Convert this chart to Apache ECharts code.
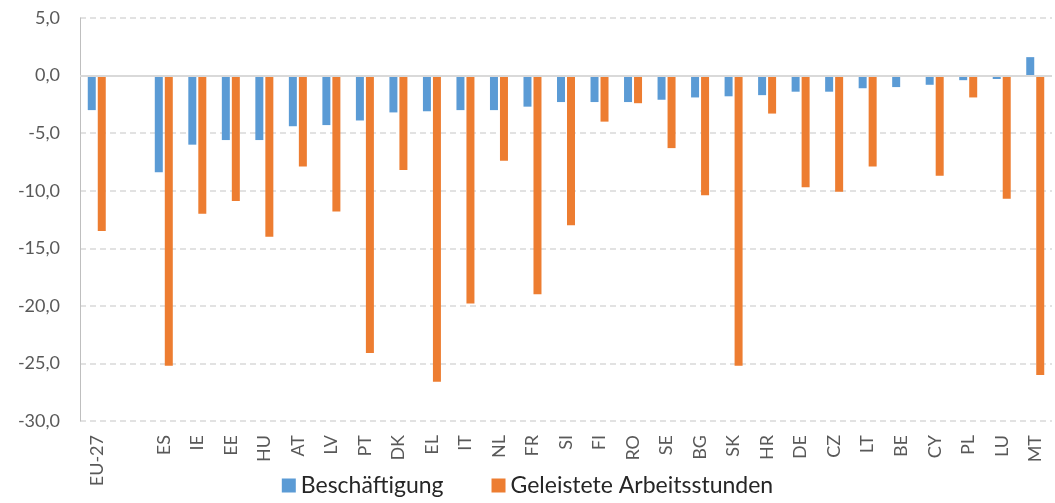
<!DOCTYPE html>
<html>
<head>
<meta charset="utf-8">
<script src="https://cdn.jsdelivr.net/npm/echarts@6/dist/echarts.min.js"></script>
<style>html,body{margin:0;padding:0;background:#fff;}#c{width:1055px;height:503px;}</style>
</head>
<body>
<div id="c"></div>
<script>
var categories = ['EU-27','','ES','IE','EE','HU','AT','LV','PT','DK','EL','IT','NL','FR','SI','FI','RO','SE','BG','SK','HR','DE','CZ','LT','BE','CY','PL','LU','MT'];
var beschaeftigung = [-3.0,null,-8.4,-6.0,-5.6,-5.6,-4.4,-4.3,-3.9,-3.2,-3.1,-3.0,-3.0,-2.7,-2.3,-2.3,-2.3,-2.1,-1.9,-1.8,-1.7,-1.4,-1.4,-1.1,-1.0,-0.8,-0.4,-0.3,1.6];
var arbeitsstunden = [-13.5,null,-25.2,-12.0,-10.9,-14.0,-7.9,-11.8,-24.1,-8.2,-26.6,-19.8,-7.4,-19.0,-13.0,-4.0,-2.4,-6.3,-10.4,-25.2,-3.3,-9.7,-10.1,-7.9,null,-8.7,-1.9,-10.7,-26.0];
var yTicks = {min:-30, max:5, interval:5};
var seriesNames = ['Beschäftigung','Geleistete Arbeitsstunden'];

var chart = echarts.init(document.getElementById('c'));
var font = 'Lato, "Open Sans", sans-serif';
chart.setOption({
  animation:false,
  color:['#5b9bd5','#ed7d31'],
  grid:{left:80,right:3,top:18,bottom:82,containLabel:false},
  legend:{
    bottom:1,left:'center',itemWidth:14,itemHeight:14,itemGap:48,
    icon:'rect',
    textStyle:{fontFamily:font,fontSize:23,color:'#262626'},
    data:seriesNames
  },
  xAxis:{
    type:'category',data:categories,
    axisLine:{show:false,onZero:false},
    axisTick:{show:false},
    axisLabel:{rotate:90,interval:0,margin:14,fontFamily:font,fontSize:18,color:'#595959'}
  },
  yAxis:{
    type:'value',min:yTicks.min,max:yTicks.max,interval:yTicks.interval,
    axisLine:{show:true,lineStyle:{color:'#bfbfbf',width:1}},
    axisTick:{show:false},
    splitLine:{show:true,lineStyle:{color:'#d9d9d9',type:[6,4],width:1.5}},
    axisLabel:{margin:20,fontFamily:font,fontSize:18,color:'#595959',
      formatter:function(v){return v.toFixed(1).replace('.',',');}}
  },
  series:[
    {name:seriesNames[0],type:'bar',data:beschaeftigung,barWidth:8,barGap:'25%',
     markLine:{silent:true,symbol:'none',label:{show:false},
       lineStyle:{color:'#d9d9d9',type:'solid',width:2},data:[{yAxis:0}]}},
    {name:seriesNames[1],type:'bar',data:arbeitsstunden,barWidth:8,barGap:'25%'}
  ]
});
</script>
</body>
</html>
